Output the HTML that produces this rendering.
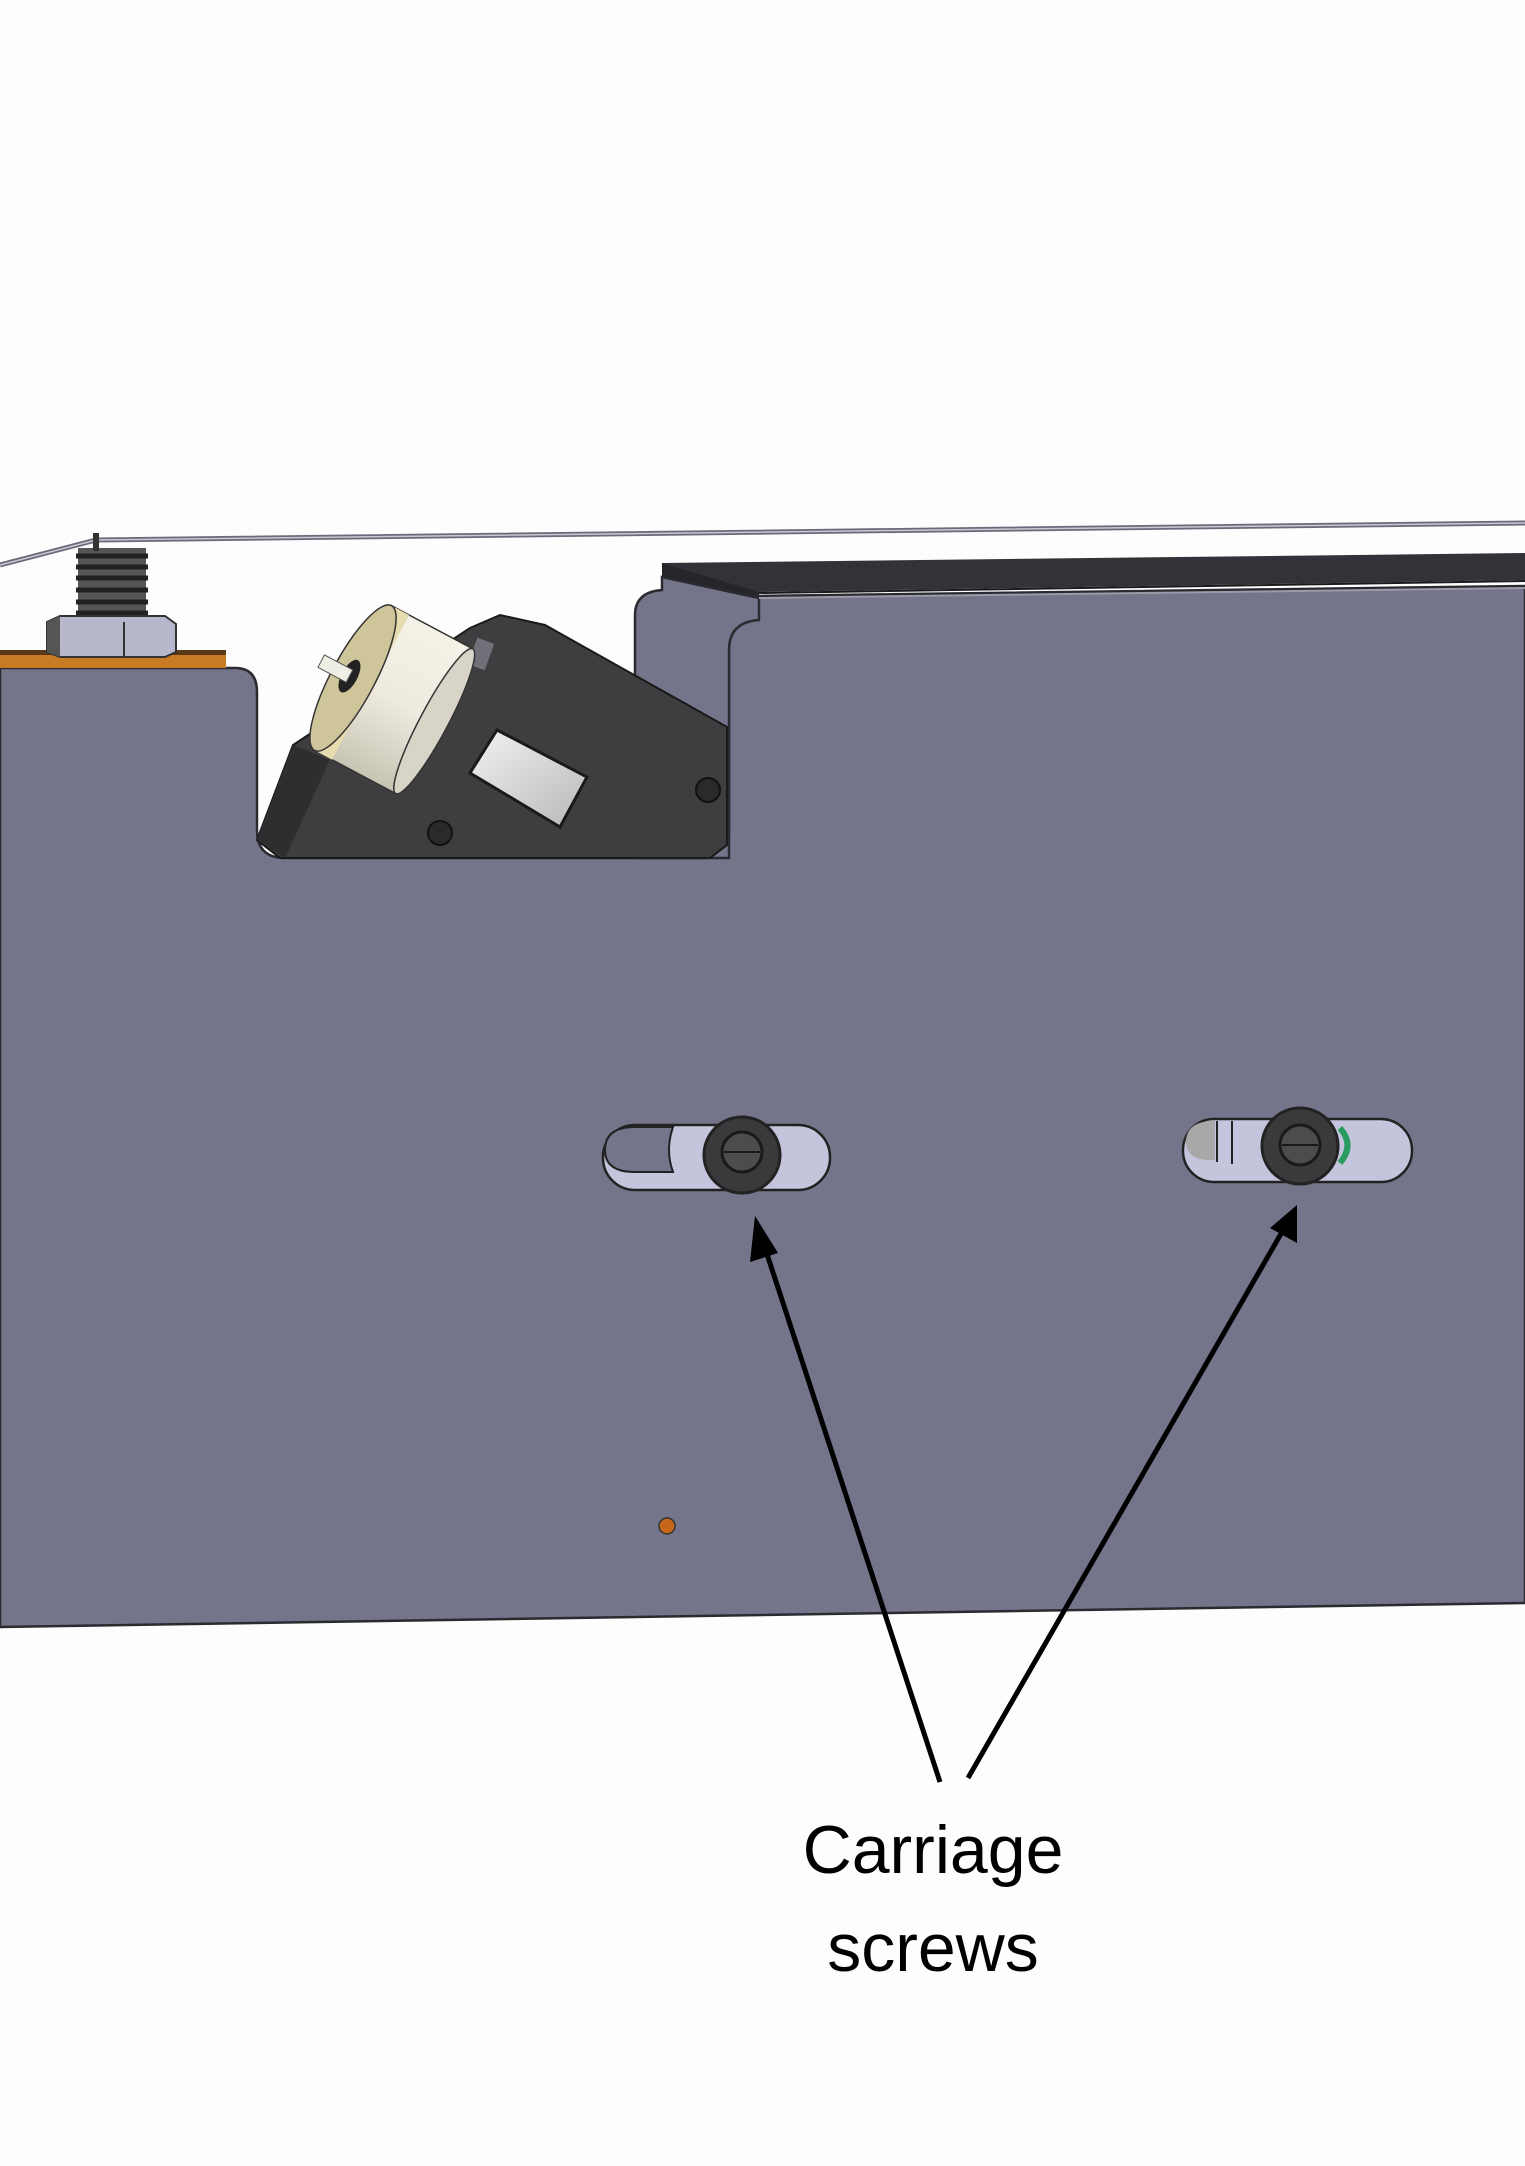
<!DOCTYPE html>
<html><head><meta charset="utf-8"><style>html,body{margin:0;padding:0;background:#fdfdfd}svg{display:block}</style></head>
<body>
<svg width="1525" height="2166" viewBox="0 0 1525 2166" xmlns="http://www.w3.org/2000/svg">
<defs>
<linearGradient id="cyl" x1="0" y1="0" x2="0" y2="1">
<stop offset="0" stop-color="#f4f2e6"/><stop offset="0.5" stop-color="#eeeae0"/><stop offset="1" stop-color="#c8c4b4"/></linearGradient>
<linearGradient id="win" x1="0" y1="0" x2="1" y2="1">
<stop offset="0" stop-color="#f2f2f2"/><stop offset="1" stop-color="#b8b8b8"/></linearGradient>
</defs>
<rect width="1525" height="2166" fill="#fdfdfd"/>
<!-- wire -->
<polyline points="0,565 96,540 1525,523" fill="none" stroke="#6a6a7a" stroke-width="5"/>
<polyline points="0,565 96,540 1525,523" fill="none" stroke="#c8c8d4" stroke-width="1.5"/>
<!-- dark top bar -->
<polygon points="662,563 1525,553 1525,580 759,592 662,577" fill="#333238"/>
<polygon points="662,563 759,592 759,598 662,577" fill="#26252a"/>
<!-- panel -->
<path d="M0,668 L235,668 Q257,668 257,692 L257,830 Q257,858 285,858 L702,858 Q729,858 729,830 L729,650 Q729,622 756,620 L756,596 L1525,586 L1525,1603 L0,1627 Z" fill="#74758a" stroke="#2a2a30" stroke-width="2.5"/>
<path d="M635,858 L635,615 Q635,592 662,590 L662,577 L759,598 L759,620 Q729,622 729,650 L729,858 Z" fill="#74758a" stroke="#2a2a30" stroke-width="2.5"/>
<line x1="759" y1="598" x2="1525" y2="588" stroke="#9a9aa8" stroke-width="2"/>
<line x1="759" y1="593" x2="1525" y2="581" stroke="#1a1a1e" stroke-width="2"/>
<!-- orange plate -->
<rect x="0" y="650" width="226" height="18" fill="#c87a24"/>
<rect x="0" y="650" width="226" height="5" fill="#5a3a18"/>
<!-- spring -->
<rect x="78" y="548" width="68" height="70" fill="#555"/>
<g stroke="#222" stroke-width="5">
<line x1="76" y1="556" x2="148" y2="556"/><line x1="76" y1="567" x2="148" y2="567"/><line x1="76" y1="578" x2="148" y2="578"/><line x1="76" y1="590" x2="148" y2="590"/><line x1="76" y1="602" x2="148" y2="602"/><line x1="76" y1="613" x2="148" y2="613"/></g>
<rect x="93" y="533" width="6" height="18" fill="#333"/>
<!-- nut -->
<polygon points="47,622 60,616 165,616 176,624 176,652 165,657 60,657 47,652" fill="#b8b8cc" stroke="#333" stroke-width="2"/>
<polygon points="47,622 60,616 60,657 47,652" fill="#555"/>
<line x1="124" y1="622" x2="124" y2="657" stroke="#333" stroke-width="2"/>
<!-- motor body -->
<polygon points="257,840 293,745 470,628 500,615 545,625 727,727 727,845 710,858 280,858" fill="#3e3e40" stroke="#1a1a1a" stroke-width="2"/>
<polygon points="257,840 293,745 330,760 285,858" fill="#2e2e30"/>
<polygon points="470,773 497,730 587,777 560,827" fill="url(#win)" stroke="#1a1a1a" stroke-width="3"/>
<circle cx="440" cy="833" r="12" fill="#2a2a2c" stroke="#111" stroke-width="2"/>
<circle cx="708" cy="790" r="12" fill="#2a2a2c" stroke="#111" stroke-width="2"/>
<rect x="472" y="640" width="18" height="28" fill="#707078" transform="rotate(20 481 654)"/>
<!-- encoder -->
<g transform="translate(353,678) rotate(28)">
<rect x="0" y="-82" width="92" height="164" fill="url(#cyl)" stroke="#333" stroke-width="1.5"/>
<ellipse cx="92" cy="0" rx="14" ry="82" fill="#d8d4c8" stroke="#333" stroke-width="1.5"/>
<rect x="0" y="-82" width="20" height="164" fill="#e6dcb0"/>
<ellipse cx="0" cy="0" rx="22" ry="82" fill="#cfc59a" stroke="#333" stroke-width="1.5"/>
<ellipse cx="-4" cy="0" rx="8" ry="18" fill="#222"/>
<rect x="-36" y="-7" width="32" height="14" fill="#eeeee4" stroke="#555" stroke-width="1"/>
</g>
<!-- slot 1 -->
<rect x="603" y="1125" width="227" height="65" rx="32" fill="#c4c4dc" stroke="#222" stroke-width="2.5"/>
<path d="M635,1127 L673,1127 Q665,1150 673,1172 L635,1172 Q605,1172 605,1150 Q605,1127 635,1127Z" fill="#74758a" stroke="#222" stroke-width="2"/>
<circle cx="742" cy="1155" r="38" fill="#3a3a3c" stroke="#222" stroke-width="3"/>
<circle cx="742" cy="1152" r="20" fill="#4c4c4e" stroke="#1a1a1a" stroke-width="3"/>
<line x1="724" y1="1152" x2="760" y2="1152" stroke="#1a1a1a" stroke-width="2"/>
<!-- slot 2 -->
<rect x="1183" y="1119" width="229" height="63" rx="31" fill="#c4c4dc" stroke="#222" stroke-width="2.5"/>
<path d="M1214,1121 L1215,1121 L1215,1160 L1210,1160 Q1185,1160 1186,1140 Q1188,1121 1214,1121Z" fill="#a8a8a8"/>
<line x1="1217" y1="1121" x2="1217" y2="1162" stroke="#222" stroke-width="2"/>
<line x1="1232" y1="1121" x2="1232" y2="1164" stroke="#222" stroke-width="2"/>
<path d="M1340,1128 Q1355,1145 1340,1163" fill="none" stroke="#2a9a60" stroke-width="6"/>
<circle cx="1300" cy="1146" r="38" fill="#3a3a3c" stroke="#222" stroke-width="3"/>
<circle cx="1300" cy="1145" r="20" fill="#4c4c4e" stroke="#1a1a1a" stroke-width="3"/>
<line x1="1282" y1="1145" x2="1318" y2="1145" stroke="#1a1a1a" stroke-width="2"/>
<!-- orange dot -->
<circle cx="667" cy="1526" r="8" fill="#c8661a" stroke="#333" stroke-width="1.5"/>
<!-- arrows -->
<line x1="940" y1="1782" x2="765" y2="1248" stroke="#000" stroke-width="5"/>
<polygon points="755,1216 778,1253 750,1262" fill="#000"/>
<line x1="968" y1="1778" x2="1282" y2="1232" stroke="#000" stroke-width="5"/>
<polygon points="1297,1205 1297,1243 1270,1228" fill="#000"/>
<text x="933" y="1873" font-family="Liberation Sans, sans-serif" font-size="68" text-anchor="middle" fill="#000">Carriage</text>
<text x="933" y="1971" font-family="Liberation Sans, sans-serif" font-size="68" text-anchor="middle" fill="#000">screws</text>
</svg>
</body></html>
